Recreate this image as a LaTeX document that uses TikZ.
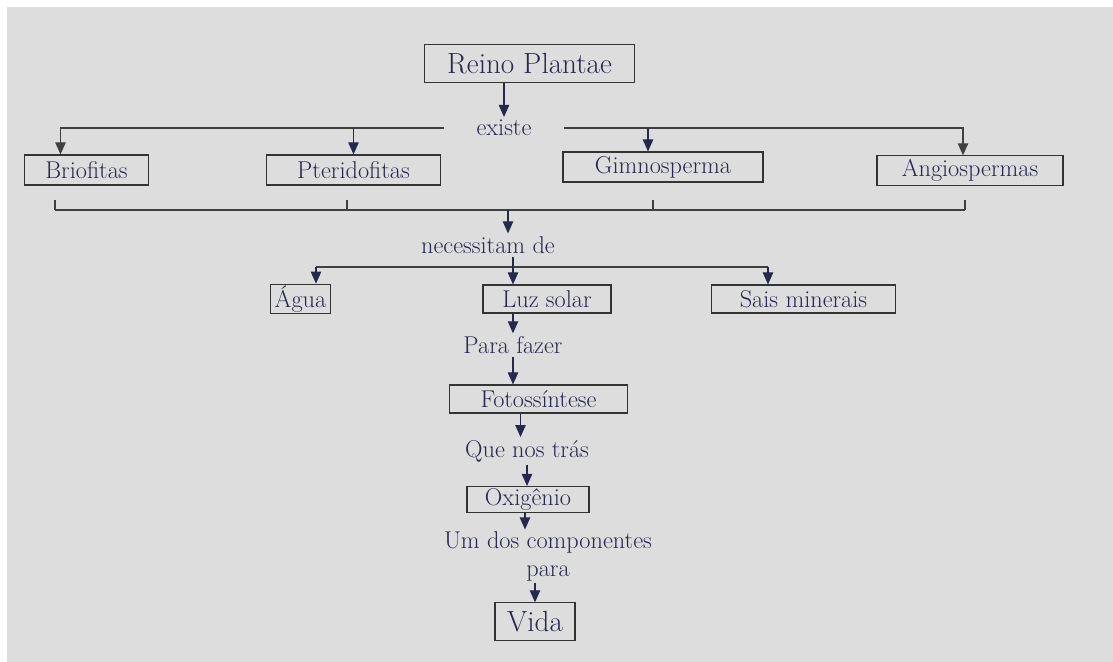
\documentclass[tikz,border=0pt]{standalone}
\usepackage{tikz}
\usetikzlibrary{arrows.meta,calc}
\definecolor{papel}{RGB}{221,221,221}
\definecolor{tinta}{RGB}{38,40,78}
\tikzset{
  caixa/.style={draw=black!80, thick, rectangle, inner sep=1pt, font=\LARGE, text=tinta},
  rotulo/.style={font=\LARGE, text=tinta, inner sep=2pt},
  seta/.style={-{Triangle[length=3mm,width=2.6mm]}, thick, draw=tinta},
  linha/.style={thick, draw=black!75}
}
\begin{document}
\begin{tikzpicture}[x=0.025cm, y=-0.025cm]
  \useasboundingbox (0,0) rectangle (1113,662);
  \fill[white] (0,0) rectangle (1113,662);
  \fill[papel] (7,7) rectangle (1113,662);

  % caixas
  \node[caixa, font=\huge, minimum width=5.23cm, minimum height=0.93cm] (reino) at (529.5,63.5) {Reino Plantae};
  \node[caixa, minimum width=3.08cm, minimum height=0.75cm] (brio) at (86.5,170) {Briofitas};
  \node[caixa, minimum width=4.33cm, minimum height=0.75cm] (pteri) at (353.5,170) {Pteridofitas};
  \node[caixa, minimum width=5.0cm, minimum height=0.75cm] (gimno) at (663,167) {Gimnosperma};
  \node[caixa, minimum width=4.65cm, minimum height=0.73cm] (angio) at (970,170.5) {Angiospermas};
  \node[caixa, minimum width=1.48cm, minimum height=0.7cm] (agua) at (300.5,299) {Água};
  \node[caixa, minimum width=3.2cm, minimum height=0.7cm] (luz) at (547,299) {Luz solar};
  \node[caixa, minimum width=4.58cm, minimum height=0.7cm] (sais) at (803.5,299) {Sais minerais};
  \node[caixa, minimum width=4.43cm, minimum height=0.7cm] (foto) at (538.5,399) {Fotossíntese};
  \node[caixa, minimum width=3.05cm, minimum height=0.65cm] (oxi) at (528,499.5) {Oxigênio};
  \node[caixa, font=\huge, minimum width=2.0cm, minimum height=0.93cm] (vida) at (535,621.5) {Vida};

  % textos de ligacao
  \node[rotulo, inner xsep=0.8cm] (existe) at (504,128) {existe};
  \node[rotulo] (nec) at (488,245) {necessitam de};
  \node[rotulo] (para) at (513,345) {Para fazer};
  \node[rotulo] (que) at (527,451) {Que nos trás};
  \node[rotulo, align=center, inner sep=1pt] (um) at (548,556) {Um dos componentes\\[-2pt] para};

  % pontos auxiliares
  \coordinate (pb) at ($(brio.north)+(-26,0)$);
  \coordinate (pa) at ($(angio.north)+(-7,0)$);
  \coordinate (pg) at ($(gimno.north)+(-15,0)$);
  \coordinate (pf) at ($(foto.south)+(-18,0)$);
  \coordinate (po) at ($(oxi.south)+(-3,0)$);

  % existe
  \draw[seta] (reino.south -| existe.north) -- (existe.north);
  \draw[seta, draw=black!75] (existe.west) -| (pb);
  \draw[seta] (pteri.north |- existe.west) -- (pteri.north);
  \draw[seta, draw=black!75] (existe.east) -| (pa);
  \draw[seta] (pg |- existe.east) -- (pg);

  % chave de baixo
  \coordinate (k1) at (55,210);
  \coordinate (k2) at (347,210);
  \coordinate (k3) at (653,210);
  \coordinate (k4) at (965,210);
  \coordinate (km) at (508,210);
  \draw[linha] (k1) -- (k4);
  \foreach \k in {k1,k2,k3,k4} \draw[linha] (\k) -- ++(0,-10);
  \draw[seta] (km) -- (km |- nec.north);

  % necessitam de
  \coordinate (n1) at (316,267);
  \coordinate (n2) at (513,267);
  \coordinate (n3) at (768,267);
  \draw[linha] (n1) -- (n3);
  \draw[seta] (n1) -- (n1 |- agua.north);
  \draw[seta] (n2 |- nec.south) -- (n2 |- luz.north);
  \draw[seta] (n3) -- (n3 |- sais.north);

  % coluna central
  \draw[seta] (luz.south -| para.north) -- (para.north);
  \draw[seta] (para.south) -- (para.south |- foto.north);
  \draw[seta] (pf) -- (pf |- que.north);
  \draw[seta] (que.south) -- (que.south |- oxi.north);
  \draw[seta] (po) -- (po |- um.north);
  \draw[seta] (um.south -| vida.north) -- (vida.north);
\end{tikzpicture}
\end{document}
